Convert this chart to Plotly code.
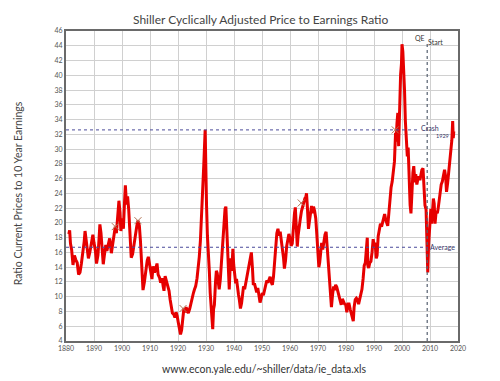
import plotly.graph_objects as go

years = [1881.0,1881.3,1881.6,1882.0,1882.5,1883.0,1883.5,1884.0,1884.5,1885.0,1885.5,1886.0,1886.5,1886.8,
1887.2,1887.6,1888.0,1888.5,1889.0,1889.6,1890.0,1890.5,1890.9,1891.4,1891.8,1892.1,1892.5,1893.0,1893.3,1893.7,
1894.2,1894.6,1895.0,1895.6,1896.2,1896.7,1897.2,1897.6,1898.0,1898.5,1898.9,1899.3,1899.6,1900.0,1900.5,1900.9,
1901.2,1901.6,1902.0,1902.4,1902.8,1903.3,1903.8,1904.3,1904.8,1905.3,1905.7,1906.2,1906.6,1907.0,1907.5,1908.0,
1908.5,1909.0,1909.4,1909.8,1910.3,1910.7,1911.1,1911.6,1912.0,1912.5,1912.9,1913.4,1913.8,1914.3,1914.7,1915.0,
1915.4,1915.9,1916.3,1916.8,1917.2,1917.6,1918.0,1918.5,1918.9,1919.3,1919.7,1920.1,1920.5,1920.9,1921.3,1921.7,
1922.1,1922.5,1922.9,1923.3,1923.7,1924.2,1924.6,1925.0,1925.5,1925.9,1926.3,1926.8,1927.2,1927.6,1928.0,1928.4,
1928.8,1929.2,1929.7,1929.9,1930.2,1930.5,1930.8,1931.2,1931.5,1931.8,1932.1,1932.4,1932.7,1933.0,1933.4,1933.7,
1934.0,1934.4,1934.7,1935.1,1935.5,1935.9,1936.3,1936.8,1937.1,1937.5,1937.9,1938.3,1938.6,1938.9,1939.2,1939.6,
1939.9,1940.3,1940.6,1940.9,1941.2,1941.6,1941.9,1942.3,1942.7,1943.0,1943.4,1943.8,1944.2,1944.6,1945.0,1945.4,
1945.8,1946.2,1946.6,1946.9,1947.3,1947.7,1948.1,1948.5,1948.9,1949.3,1949.7,1950.1,1950.5,1950.9,1951.3,1951.7,
1952.1,1952.5,1952.9,1953.3,1953.7,1954.1,1954.5,1954.9,1955.3,1955.7,1956.1,1956.5,1956.9,1957.3,1957.7,1958.0,
1958.4,1958.8,1959.2,1959.6,1960.0,1960.4,1960.8,1961.2,1961.6,1961.9,1962.3,1962.6,1962.9,1963.3,1963.7,1964.1,
1964.5,1964.9,1965.3,1965.7,1965.9,1966.2,1966.6,1966.9,1967.3,1967.7,1968.0,1968.4,1968.8,1969.2,1969.6,1969.9,
1970.3,1970.6,1970.9,1971.3,1971.7,1972.1,1972.5,1972.9,1973.3,1973.7,1974.1,1974.5,1974.8,1975.2,1975.6,1975.9,
1976.3,1976.7,1977.1,1977.5,1977.9,1978.3,1978.7,1979.1,1979.5,1979.9,1980.3,1980.7,1981.1,1981.5,1981.9,1982.3,
1982.6,1982.9,1983.3,1983.7,1984.1,1984.5,1984.9,1985.3,1985.7,1986.1,1986.5,1986.9,1987.3,1987.6,1987.8,1988.1,
1988.5,1988.9,1989.3,1989.7,1990.0,1990.4,1990.8,1991.1,1991.5,1991.9,1992.3,1992.7,1993.1,1993.5,1993.8,1994.2,
1994.6,1994.9,1995.3,1995.7,1996.1,1996.5,1996.9,1997.3,1997.7,1997.9,1998.2,1998.5,1998.8,1999.1,1999.5,1999.8,
2000.0,2000.3,2000.6,2000.9,2001.2,2001.6,2001.9,2002.2,2002.6,2002.9,2003.2,2003.5,2003.9,2004.2,2004.6,2004.9,
2005.3,2005.7,2006.0,2006.4,2006.8,2007.1,2007.5,2007.8,2008.2,2008.6,2008.9,2009.2,2009.5,2009.9,2010.3,2010.6,
2010.9,2011.2,2011.5,2011.8,2012.2,2012.6,2012.9,2013.3,2013.7,2014.0,2014.4,2014.8,2015.2,2015.6,2015.9,2016.3,
2016.7,2017.0,2017.4,2017.8,2018.1,2018.3,2018.5]

cape = [18.5,19.0,17.2,16.4,14.3,15.6,15.0,14.6,13.0,13.3,14.5,15.8,17.5,18.9,
17.6,15.8,15.2,16.0,16.9,18.4,17.3,16.2,14.5,15.6,17.8,19.8,18.6,16.5,14.4,15.6,
17.0,16.2,16.8,17.9,15.9,17.1,18.3,19.5,18.6,21.0,23.0,21.4,18.9,20.6,19.2,22.8,
25.1,22.5,23.6,21.8,19.2,15.3,15.8,17.2,18.8,19.6,20.3,19.6,17.5,15.0,10.9,12.0,
13.8,14.9,15.4,14.6,13.5,12.4,14.1,13.3,13.7,14.5,13.0,12.6,11.9,12.5,11.4,10.8,
12.8,12.0,11.5,10.8,9.6,8.5,7.8,7.6,7.2,7.9,7.4,6.5,5.6,4.9,5.5,7.6,
8.4,7.9,8.6,8.0,7.8,8.4,9.2,9.8,10.5,11.0,11.4,12.5,13.6,15.4,17.6,20.5,
24.2,27.8,32.6,24.0,22.3,18.3,15.0,13.4,10.5,8.2,7.0,5.6,8.3,8.9,12.0,13.5,
13.2,12.0,11.0,12.3,14.8,17.6,19.8,21.9,22.2,18.7,14.0,11.0,13.9,15.2,13.5,16.5,
14.3,13.2,11.8,12.4,11.0,10.3,9.6,8.4,9.1,10.2,11.4,11.0,11.8,12.3,13.2,14.3,
15.2,16.0,13.8,11.6,11.8,10.9,10.6,11.2,10.0,9.2,9.8,10.5,10.2,10.9,11.7,12.2,
11.9,12.3,12.7,12.0,11.6,12.7,14.6,16.8,18.6,19.2,18.3,18.8,17.8,16.6,15.2,13.8,
14.9,16.8,17.8,18.5,17.9,16.9,17.2,19.8,21.3,22.1,19.5,16.8,18.3,19.9,20.6,21.6,
22.3,22.7,23.3,23.6,24.0,22.2,19.2,20.1,21.5,22.3,21.3,22.2,21.6,20.6,18.3,16.8,
14.0,14.6,15.8,17.3,16.4,17.8,18.4,18.8,16.5,14.8,13.2,10.8,8.6,10.3,11.4,10.9,
11.6,11.3,10.6,9.9,9.3,8.9,9.7,9.3,9.0,8.9,7.9,9.0,9.0,8.3,7.8,7.3,
6.7,8.6,9.6,9.8,9.6,9.0,9.8,10.5,11.0,12.4,14.2,14.6,16.8,18.0,14.2,13.9,
14.6,14.8,16.0,17.8,17.1,17.3,15.2,15.6,18.2,18.9,19.9,19.5,20.3,20.6,21.2,20.4,
19.9,19.6,21.3,23.3,24.8,25.6,27.3,28.3,32.2,31.0,33.5,34.9,30.4,36.0,40.1,41.5,
44.2,43.2,41.4,38.0,33.8,30.9,29.0,30.2,24.3,22.4,21.3,25.0,26.8,27.7,25.5,26.6,
25.2,26.0,26.3,25.8,26.7,27.2,27.4,25.8,22.4,21.8,16.2,13.3,17.0,20.3,21.9,19.9,
21.6,23.3,22.6,19.9,21.6,21.3,21.9,23.2,24.2,25.2,25.6,26.6,27.2,26.2,24.2,25.4,
26.9,28.1,29.3,31.2,33.8,31.5,32.4]

mark_years = [1897.6, 1905.7, 1921.8, 1964.0, 1997.6]
mark_vals = [19.5, 20.3, 8.4, 22.7, 32.6]

crash_level = 32.6
average_level = 16.7
qe_year = 2009.0
x_ticks = list(range(1880, 2021, 10))
y_ticks = list(range(4, 47, 2))

fig = go.Figure()
fig.add_trace(go.Scatter(x=years, y=cape, mode="lines",
                         line=dict(color="#e60000", width=3), showlegend=False))
fig.add_trace(go.Scatter(x=mark_years, y=mark_vals, mode="markers",
                         marker=dict(symbol="x-thin", size=7, line=dict(color="#b07050", width=1)),
                         showlegend=False))

fig.add_shape(type="line", x0=1880, x1=2006, y0=crash_level, y1=crash_level,
              line=dict(color="#4a4a9a", width=1, dash="dot"))
fig.add_shape(type="line", x0=1880, x1=2009.3, y0=average_level, y1=average_level,
              line=dict(color="#4a4a9a", width=1, dash="dot"))
fig.add_shape(type="line", x0=qe_year, x1=qe_year, y0=4, y1=44.6,
              line=dict(color="#556070", width=1.2, dash="dot"))

fnt = "Lato, Open Sans, sans-serif"
fig.add_annotation(x=2006.2, y=crash_level + 0.2, text="Crash", showarrow=False,
                   xanchor="left", yanchor="middle", font=dict(size=7, color="#333366", family=fnt))
fig.add_annotation(x=2011.5, y=crash_level - 0.8, text="1929", showarrow=False,
                   xanchor="left", yanchor="middle", font=dict(size=5.5, color="#333366", family=fnt))
fig.add_annotation(x=2009.4, y=average_level, text="Average", showarrow=False,
                   xanchor="left", yanchor="middle", font=dict(size=7, color="#333366", family=fnt))
fig.add_annotation(x=2008.8, y=45.0, text="QE", showarrow=False,
                   xanchor="right", yanchor="middle", font=dict(size=7, color="#333", family=fnt))
fig.add_annotation(x=2008.6, y=44.5, text="Start", showarrow=False,
                   xanchor="left", yanchor="middle", font=dict(size=7, color="#333", family=fnt))

fig.add_annotation(x=0.497, y=1.037, xref="paper", yref="paper",
                   text="Shiller Cyclically Adjusted Price to Earnings Ratio", showarrow=False,
                   xanchor="center", yanchor="middle", font=dict(size=12, color="#444", family=fnt))
fig.add_annotation(x=0.505, y=-0.065, xref="paper", yref="paper",
                   text="www.econ.yale.edu/~shiller/data/ie_data.xls", showarrow=False,
                   xanchor="center", yanchor="top", font=dict(size=10.5, color="#333", family=fnt))
fig.add_annotation(x=-0.122, y=0.477, xref="paper", yref="paper",
                   text="Ratio Current Prices to 10 Year Earnings", showarrow=False, textangle=-90,
                   xanchor="center", yanchor="middle", font=dict(size=10.5, color="#444", family=fnt))

fig.update_xaxes(range=[1880, 2020], tickvals=x_ticks, ticktext=[str(v) for v in x_ticks],
                 showgrid=True, gridcolor="#d0d0d0", gridwidth=1,
                 showline=True, linecolor="#6a6a6a", linewidth=2, mirror=True,
                 ticks="", tickfont=dict(size=7, color="#555", family=fnt), zeroline=False)
fig.update_yaxes(range=[4, 46], tickvals=y_ticks, ticktext=[str(v) for v in y_ticks],
                 showgrid=True, gridcolor="#d0d0d0", gridwidth=1,
                 showline=True, linecolor="#6a6a6a", linewidth=2, mirror=True,
                 ticks="", tickfont=dict(size=7, color="#555", family=fnt), zeroline=False)

fig.update_layout(width=500, height=381, margin=dict(l=58, r=50, t=23, b=48),
                  paper_bgcolor="white", plot_bgcolor="white", showlegend=False)

fig.write_html("out.html")
